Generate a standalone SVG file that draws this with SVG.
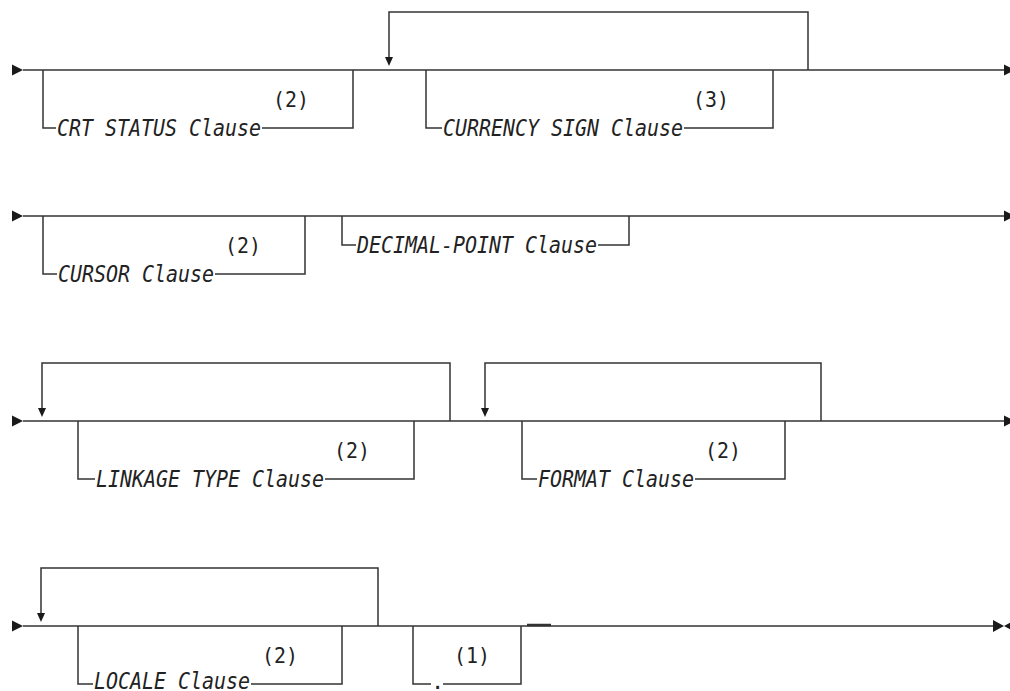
<svg xmlns="http://www.w3.org/2000/svg" width="1010" height="691" viewBox="0 0 1010 691">
<style>
.ln{fill:none;stroke:#333;stroke-width:1.5}
.ar{fill:#1a1a1a;stroke:none}
.cl{font-family:"DejaVu Sans Mono","Liberation Mono",monospace;font-size:23px;font-style:oblique;fill:#222}
.nt{font-family:"DejaVu Sans Mono","Liberation Mono",monospace;font-size:22px;fill:#222}
</style>
<rect width="1010" height="691" fill="#fff"/>
<g id="connectors">
  <polygon class="ar" points="12,64.5 23,70 12,75.5"/>
  <path class="ln" d="M23,70 H1004"/>
  <polygon class="ar" points="1004,64.5 1015,70 1004,75.5"/>
  <path class="ln" d="M808,70 V12 H389 V57"/>
  <polygon class="ar" points="385,57 393,57 389,66"/>
  <polygon class="ar" points="12,210.5 23,216 12,221.5"/>
  <path class="ln" d="M23,216 H1004"/>
  <polygon class="ar" points="1004,210.5 1015,216 1004,221.5"/>
  <polygon class="ar" points="12,415.5 23,421 12,426.5"/>
  <path class="ln" d="M23,421 H1004"/>
  <polygon class="ar" points="1004,415.5 1015,421 1004,426.5"/>
  <path class="ln" d="M450,421 V363 H42 V408"/>
  <polygon class="ar" points="38,408 46,408 42,417"/>
  <path class="ln" d="M821,421 V363 H485 V408"/>
  <polygon class="ar" points="481,408 489,408 485,417"/>
  <polygon class="ar" points="12,620.5 23,626 12,631.5"/>
  <path class="ln" d="M23,626 H993"/>
  <path class="ln" d="M527,625 H551" style="stroke-width:2.5"/>
  <polygon class="ar" points="993,620 1004,626 993,632"/>
  <polygon class="ar" points="1004,626 1015,620 1015,632"/>
  <path class="ln" d="M378,626 V568 H41 V613"/>
  <polygon class="ar" points="37,613 45,613 41,622"/>
</g>
<g id="crt-status">
  <path class="ln" d="M43,70 V128 H56 M262,128 H353 V70"/>
  <text class="cl" x="57" y="136" textLength="204" lengthAdjust="spacingAndGlyphs">CRT STATUS Clause</text>
  <text class="nt" x="273" y="107" textLength="36" lengthAdjust="spacingAndGlyphs">(2)</text>
</g>
<g id="currency-sign">
  <path class="ln" d="M426,70 V128 H442 M684,128 H773 V70"/>
  <text class="cl" x="443" y="136" textLength="240" lengthAdjust="spacingAndGlyphs">CURRENCY SIGN Clause</text>
  <text class="nt" x="693" y="107" textLength="36" lengthAdjust="spacingAndGlyphs">(3)</text>
</g>
<g id="cursor">
  <path class="ln" d="M43,216 V274 H57 M215,274 H305 V216"/>
  <text class="cl" x="58" y="282" textLength="156" lengthAdjust="spacingAndGlyphs">CURSOR Clause</text>
  <text class="nt" x="225" y="253" textLength="36" lengthAdjust="spacingAndGlyphs">(2)</text>
</g>
<g id="decimal-point">
  <path class="ln" d="M342,216 V245 H356 M598,245 H629 V216"/>
  <text class="cl" x="357" y="253" textLength="240" lengthAdjust="spacingAndGlyphs">DECIMAL-POINT Clause</text>
</g>
<g id="linkage-type">
  <path class="ln" d="M78,421 V479 H95 M325,479 H414 V421"/>
  <text class="cl" x="96" y="487" textLength="228" lengthAdjust="spacingAndGlyphs">LINKAGE TYPE Clause</text>
  <text class="nt" x="334" y="458" textLength="36" lengthAdjust="spacingAndGlyphs">(2)</text>
</g>
<g id="format">
  <path class="ln" d="M522,421 V479 H537 M695,479 H785 V421"/>
  <text class="cl" x="538" y="487" textLength="156" lengthAdjust="spacingAndGlyphs">FORMAT Clause</text>
  <text class="nt" x="705" y="458" textLength="36" lengthAdjust="spacingAndGlyphs">(2)</text>
</g>
<g id="locale">
  <path class="ln" d="M78,626 V684 H93 M251,684 H342 V626"/>
  <text class="cl" x="94" y="689" textLength="156" lengthAdjust="spacingAndGlyphs">LOCALE Clause</text>
  <text class="nt" x="262" y="663" textLength="36" lengthAdjust="spacingAndGlyphs">(2)</text>
</g>
<g id="period">
  <path class="ln" d="M413,626 V684 H431 M443,684 H521 V626"/>
  <text class="nt" x="431" y="689">.</text>
  <text class="nt" x="454" y="663" textLength="36" lengthAdjust="spacingAndGlyphs">(1)</text>
</g>
</svg>
